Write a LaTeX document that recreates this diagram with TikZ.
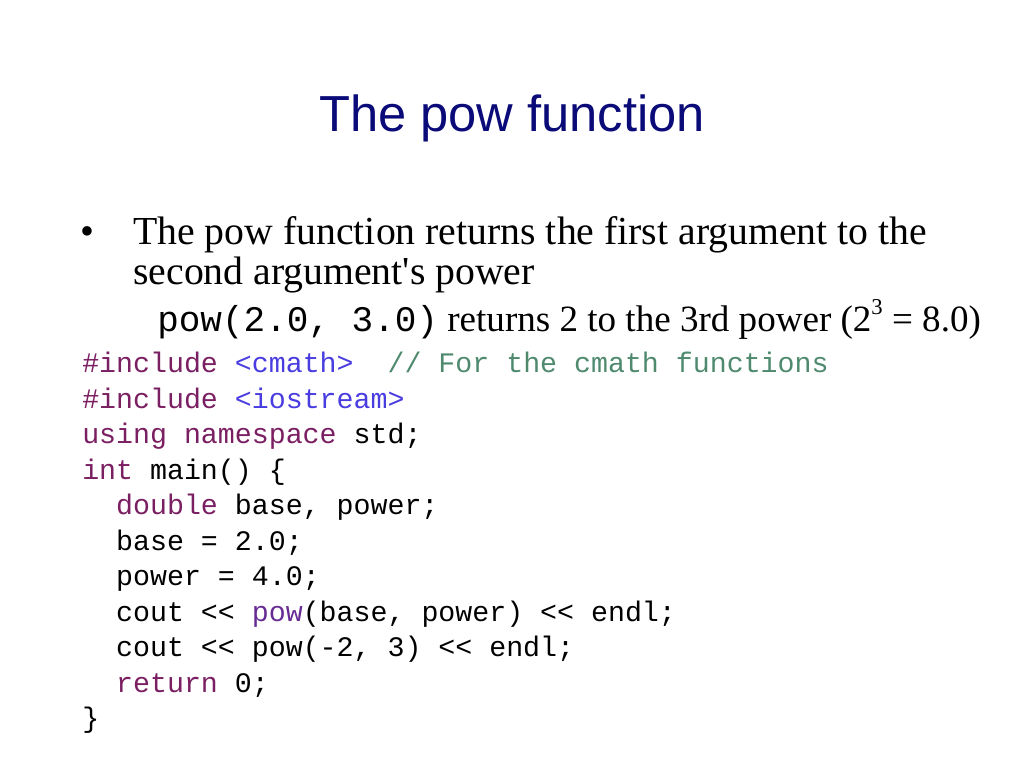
\documentclass[tikz,border=0pt]{standalone}
\usepackage{fontspec}
\setmainfont{Liberation Serif}
\setsansfont{Liberation Sans}
\setmonofont{Liberation Mono}
\definecolor{navy}{HTML}{0A0A78}
\definecolor{kw}{HTML}{7A1F62}
\definecolor{str}{HTML}{4A3DE0}
\definecolor{cmt}{HTML}{4F8A6F}
\begin{document}
\begin{tikzpicture}[x=0.75pt,y=-0.75pt,
  txt/.style={anchor=base west,inner sep=0,font=\fontsize{29.8}{34}\selectfont},
  code/.style={anchor=base west,inner sep=0,font=\fontsize{21.2}{26}\ttfamily}]
\useasboundingbox (0,0) rectangle (1024,768);
\node[anchor=base,inner sep=0,font=\fontsize{38}{44}\sffamily,text=navy] (title) at (512,131) {The pow function};
\node[txt] (bul) at (80,244) {\textbullet};
\node[txt] (l1) at (133,244) {The pow function returns the first argument to the};
\node[txt] (l2) at (133,284) {second argument\textquotesingle s power};
\node[txt,font=\fontsize{27.8}{30}\selectfont] (l3) at (157,331) {{\fontsize{27}{30}\ttfamily pow(2.0, 3.0)} returns 2 to the 3rd power (2\raisebox{0.45em}{\fontsize{17}{20}\selectfont 3} = 8.0)};
\node[code] (c1) at (82,372) {\textcolor{kw}{\#include} \textcolor{str}{<cmath>}\ \ \textcolor{cmt}{// For the cmath functions}};
\node[code] (c2) at (82,408) {\textcolor{kw}{\#include} \textcolor{str}{<iostream>}};
\node[code] (c3) at (82,443) {\textcolor{kw}{using namespace} std;};
\node[code] (c4) at (82,479) {\textcolor{kw}{int} main() \{};
\node[code] (c5) at (82,514) {\ \ \textcolor{kw}{double} base, power;};
\node[code] (c6) at (82,550) {\ \ base = 2.0;};
\node[code] (c7) at (82,585) {\ \ power = 4.0;};
\node[code] (c8) at (82,621) {\ \ cout << \textcolor{kw!60!str}{pow}(base, power) << endl;};
\node[code] (c9) at (82,656) {\ \ cout << pow(-2, 3) << endl;};
\node[code] (c10) at (82,692) {\ \ \textcolor{kw}{return} 0;};
\node[code] (c11) at (82,727) {\}};
\end{tikzpicture}
\end{document}
